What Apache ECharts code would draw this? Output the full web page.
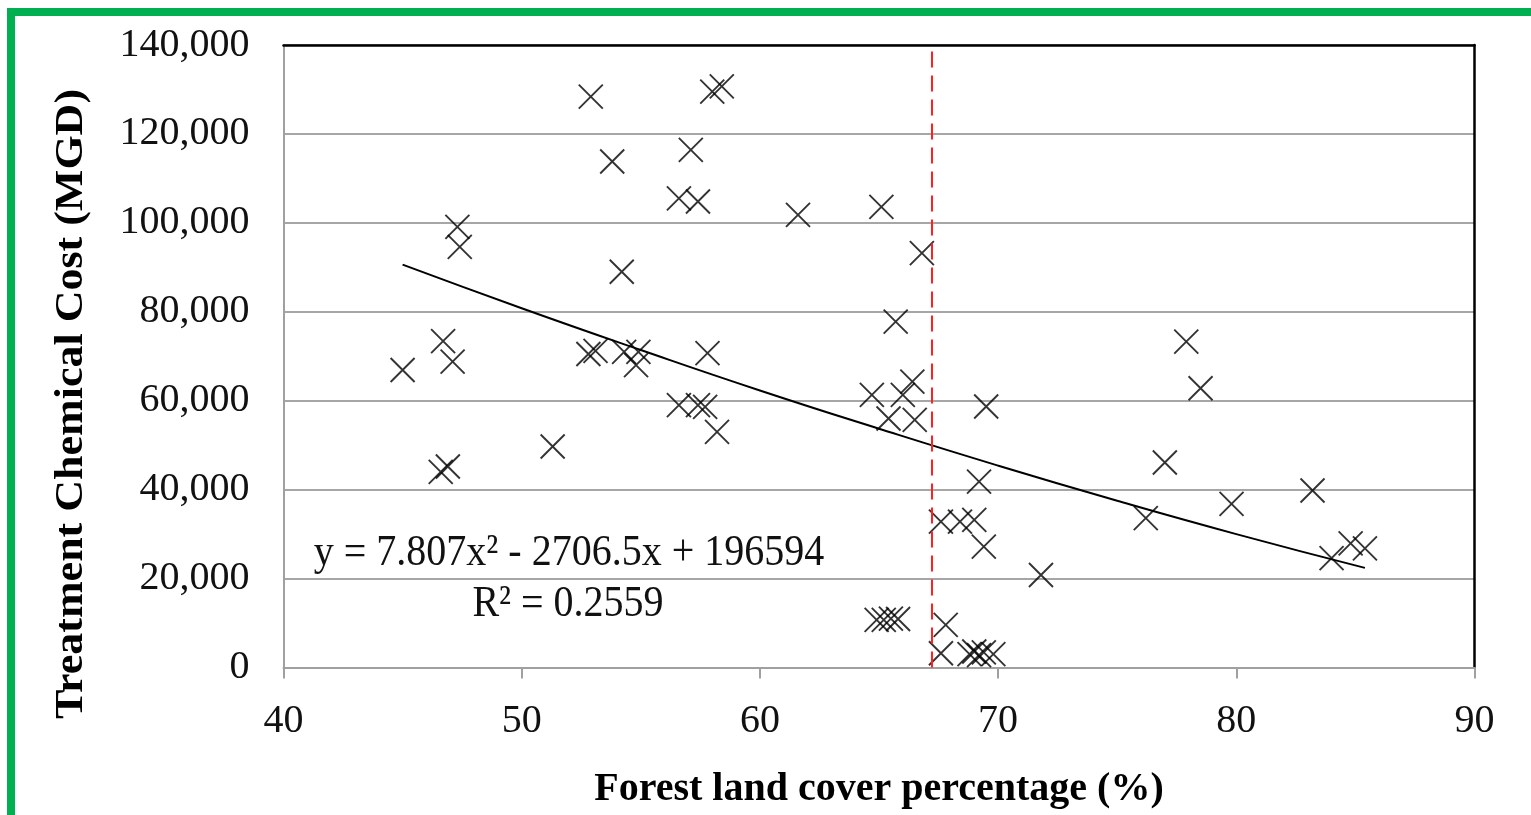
<!DOCTYPE html>
<html>
<head>
<meta charset="utf-8">
<script src="https://cdn.jsdelivr.net/npm/echarts@6/dist/echarts.min.js"></script>
<style>
html,body{margin:0;padding:0;background:#fff;}
#chart{width:1531px;height:815px;}
</style>
</head>
<body>
<div id="chart"></div>
<script>
// Scatter data: forest land cover (%) and treatment chemical cost
var forestPct = [52.9, 58.0, 58.4, 57.1, 53.8, 56.6, 57.4, 47.3, 47.4, 54.2,
  46.7, 47.1, 45.0, 52.8, 53.1, 54.3, 54.9, 54.8, 57.8, 56.6,
  57.4, 57.7, 58.2, 46.6, 46.9, 51.3, 61.6, 65.1, 66.8, 65.7,
  64.7, 66.0, 66.4, 65.4, 66.5, 69.5, 69.2, 67.6, 68.4, 69.0,
  69.4, 71.8, 64.9, 65.2, 65.5, 65.8, 67.8, 67.6, 68.8, 69.0,
  69.2, 69.4, 69.8, 77.9, 78.5, 77.0, 76.2, 79.8, 83.2, 84.0,
  84.8, 85.4];
var chemCost = [128400, 129500, 130700, 116400, 113800, 105500, 104800, 99100, 94600, 89000,
  73400, 68800, 66900, 70500, 71200, 71000, 71000, 68000, 70700, 59000,
  59000, 58600, 53000, 44000, 45200, 49700, 101800, 103600, 93200, 77800,
  61300, 61300, 64300, 56000, 55700, 58700, 41800, 32800, 32800, 33200,
  27200, 20800, 10700, 10700, 11000, 10900, 9600, 3200, 3000, 3600,
  2800, 3400, 3000, 73300, 62800, 46100, 33600, 36800, 39800, 24600,
  27900, 26800];
// Trendline points
var trendX = [45, 50, 55, 60, 65, 70, 75, 80, 85.4];
var trendY = [90600, 80800, 71400, 62300, 53700, 45400, 37500, 30000, 22400];
// Threshold (red dashed) line
var thresholdX = [67.2];
// Axis ticks
var xTicks = [40, 50, 60, 70, 80, 90];
var yTicks = [0, 20000, 40000, 60000, 80000, 100000, 120000, 140000];
var eqText = 'y = 7.807x² - 2706.5x + 196594';
var r2Text = 'R² = 0.2559';
var xTitle = 'Forest land cover percentage (%)';
var yTitle = 'Treatment Chemical Cost (MGD)';

var FONT = "'Liberation Serif', 'Times New Roman', serif";
var scatterData = forestPct.map(function (x, i) { return [x, chemCost[i]]; });
var trendData = trendX.map(function (x, i) { return [x, trendY[i]]; });

var chart = echarts.init(document.getElementById('chart'));
var gridRect = {left: 283.5, right: 56.5, top: 45, bottom: 147.5};
chart.setOption({
  backgroundColor: '#fff',
  animation: false,
  grid: {left: gridRect.left, right: gridRect.right, top: gridRect.top, bottom: gridRect.bottom, containLabel: false},
  xAxis: [{
    type: 'value', min: xTicks[0], max: xTicks[xTicks.length - 1], interval: 10,
    name: xTitle, nameLocation: 'middle', nameGap: 102,
    nameTextStyle: {fontFamily: FONT, fontSize: 40, fontWeight: 'bold', color: '#000'},
    axisLine: {show: true, lineStyle: {color: '#a0a0a0', width: 2}},
    axisTick: {show: true, inside: false, length: 11, lineStyle: {color: '#a0a0a0', width: 2}},
    axisLabel: {fontFamily: FONT, fontSize: 40, color: '#111', margin: 34},
    splitLine: {show: false}
  }, {
    type: 'value', position: 'top', min: 40, max: 90,
    axisLine: {show: true, onZero: false, lineStyle: {color: '#000', width: 2.5}},
    axisTick: {show: false}, axisLabel: {show: false}, splitLine: {show: false}
  }],
  yAxis: [{
    type: 'value', min: yTicks[0], max: yTicks[yTicks.length - 1], interval: 20000,
    axisLine: {show: true, lineStyle: {color: '#a0a0a0', width: 2}},
    axisTick: {show: false},
    axisLabel: {fontFamily: FONT, fontSize: 40, color: '#111', margin: 34,
      formatter: function (v) { return v.toString().replace(/\B(?=(\d{3})+(?!\d))/g, ','); }},
    splitLine: {show: true, lineStyle: {color: '#a6a6a6', width: 2}}
  }, {
    type: 'value', position: 'right', min: 0, max: 140000,
    axisLine: {show: true, onZero: false, lineStyle: {color: '#000', width: 2.5}},
    axisTick: {show: false}, axisLabel: {show: false}, splitLine: {show: false}
  }],
  series: [{
    type: 'scatter',
    data: scatterData,
    symbol: 'path://M0,0L10,10M10,0L0,10',
    symbolSize: 24,
    itemStyle: {color: 'rgba(0,0,0,0)', borderColor: '#000', borderWidth: 1.9},
    z: 3,
    markLine: {
      silent: true, symbol: ['none', 'none'],
      label: {show: false},
      lineStyle: {color: '#ff2020', type: [16, 8], width: 2},
      data: thresholdX.map(function (x) { return {xAxis: x}; })
    }
  }, {
    type: 'line',
    data: trendData,
    smooth: true,
    showSymbol: false,
    lineStyle: {color: '#000', width: 2},
    z: 4
  }],
  graphic: [
    {type: 'rect', left: 7, top: 8, shape: {width: 8, height: 807}, style: {fill: '#00b050'}, silent: true},
    {type: 'rect', left: 7, top: 8, shape: {width: 1524, height: 8}, style: {fill: '#00b050'}, silent: true},
    {type: 'text', x: 72, y: 404, rotation: Math.PI / 2, scaleX: 1.1,
      style: {text: yTitle, fontFamily: FONT, fontSize: 40, fontWeight: 'bold', fill: '#000',
        textAlign: 'center', textVerticalAlign: 'middle'}, silent: true},
    {type: 'text', x: 569, y: 553, scaleY: 1.1,
      style: {text: eqText, fontFamily: FONT, fontSize: 40, fill: '#111',
        textAlign: 'center', textVerticalAlign: 'middle'}, silent: true, z: 10},
    {type: 'text', x: 568, y: 604, scaleY: 1.1,
      style: {text: r2Text, fontFamily: FONT, fontSize: 40, fill: '#111',
        textAlign: 'center', textVerticalAlign: 'middle'}, silent: true, z: 10}
  ]
});
</script>
</body>
</html>
